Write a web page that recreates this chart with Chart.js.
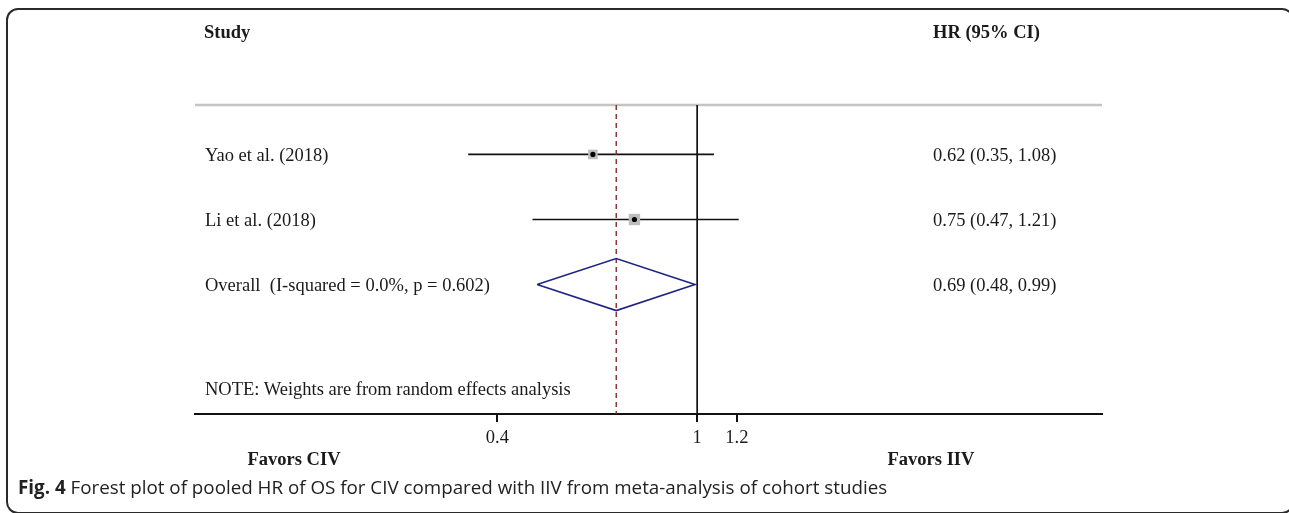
<!DOCTYPE html>
<html lang="en">
<head>
    <meta charset="UTF-8">
    <title>Forest plot of pooled HR of OS</title>
    <script src="https://cdn.jsdelivr.net/npm/chart.js"></script>
    <style>
        body { margin: 0; width: 1289px; height: 513px; overflow: hidden; background: #fff; position: relative; }
        .frame { position: absolute; left: 6px; top: 8px; width: 1284px; height: 502px; border: 2px solid #2a2a2a; border-radius: 12px; }
        #wrap { position: absolute; left: 0; top: 0; width: 1289px; height: 513px; }
        .t { position: absolute; font-family: "Liberation Serif", "Times New Roman", serif; font-size: 18.5px; color: #1a1a1a; white-space: pre; transform: translateY(-50%); line-height: 1; }
        .b { font-weight: bold; }
        .c { transform: translate(-50%, -50%); }
        .cap { position: absolute; left: 18px; top: 487px; transform: translateY(-50%); font-family: "Open Sans", sans-serif; font-size: 18.8px; color: #222; white-space: nowrap; }
    </style>
</head>
<body>
    <div class="frame"></div>
    <div id="wrap"><canvas id="forest" width="1289" height="513"></canvas></div>

    <div class="t b" style="left:204px; top:32px;">Study</div>
    <div class="t b" style="left:933px; top:32px;">HR (95% CI)</div>
    <div id="rowLabels"></div>
    <div class="t" style="left:205px; top:389px;">NOTE: Weights are from random effects analysis</div>
    <div class="t b c" style="left:294px; top:459px;">Favors CIV</div>
    <div class="t b c" style="left:931px; top:459px;">Favors IIV</div>
    <div class="cap"><b>Fig. 4</b> Forest plot of pooled HR of OS for CIV compared with IIV from meta-analysis of cohort studies</div>

    <script>
        const studies = ['Yao et al. (2018)', 'Li et al. (2018)'];
        const hr = [0.62, 0.75];
        const ciLow = [0.35, 0.47];
        const ciHigh = [1.08, 1.21];
        const weights = [41.3, 58.7];
        const overallLabel = 'Overall  (I-squared = 0.0%, p = 0.602)';
        const overallHR = [0.69];
        const overallLow = [0.48];
        const overallHigh = [0.99];
        const xTicks = [0.4, 1, 1.2];

        const rowY = [154.5, 219.5, 284.5];
        const labelsDiv = document.getElementById('rowLabels');
        const allLabels = studies.concat([overallLabel]);
        const allText = hr.concat(overallHR).map((v, i) => {
            const lo = ciLow.concat(overallLow)[i], hi = ciHigh.concat(overallHigh)[i];
            return v.toFixed(2) + ' (' + lo.toFixed(2) + ', ' + hi.toFixed(2) + ')';
        });
        allLabels.forEach((lab, i) => {
            labelsDiv.insertAdjacentHTML('beforeend',
                '<div class="t" style="left:205px; top:' + rowY[i] + 'px;">' + lab + '</div>' +
                '<div class="t" style="left:933px; top:' + rowY[i] + 'px;">' + allText[i] + '</div>');
        });

        const yMin = 0.24, yMax = 4.99;
        const xMin = 0.1, xMax = 6.4;
        const overallRow = studies.length + 1;

        // lower order = drawn on top
        const datasets = [];
        datasets.push({ type: 'line', order: 9, data: [{x: xMin, y: yMin}, {x: xMax, y: yMin}], borderColor: '#c4c4c4', borderWidth: 2.5, pointRadius: 0, clip: false });
        datasets.push({ type: 'line', order: 8, data: [{x: 1, y: yMin}, {x: 1, y: yMax}], borderColor: '#111', borderWidth: 1.7, pointRadius: 0, clip: false });
        studies.forEach((s, i) => {
            datasets.push({ type: 'line', order: 7, data: [{x: ciLow[i], y: i + 1}, {x: ciHigh[i], y: i + 1}], borderColor: '#111', borderWidth: 1.7, pointRadius: 0 });
        });
        datasets.push({ type: 'line', order: 5, data: [{x: overallHR[0], y: yMin}, {x: overallHR[0], y: yMax}], borderColor: '#8b2a2a', borderWidth: 1.4, borderDash: [5, 4], pointRadius: 0, clip: false });
        datasets.push({ type: 'scatter', order: 2, data: hr.map((v, i) => ({x: v, y: i + 1})), pointStyle: 'rect',
            pointRadius: weights.map(w => Math.sqrt(w) * 1.05), backgroundColor: '#bdbdbd', borderWidth: 0 });
        datasets.push({ type: 'scatter', order: 1, data: hr.map((v, i) => ({x: v, y: i + 1})), pointStyle: 'circle',
            pointRadius: 2.6, backgroundColor: '#000', borderWidth: 0 });
        datasets.push({ type: 'line', order: 3, data: [
            {x: overallLow[0], y: overallRow}, {x: overallHR[0], y: overallRow - 0.4},
            {x: overallHigh[0], y: overallRow}, {x: overallHR[0], y: overallRow + 0.4},
            {x: overallLow[0], y: overallRow}],
            borderColor: '#1c2580', borderWidth: 1.6, pointRadius: 0, tension: 0 });

        new Chart(document.getElementById('forest'), {
            type: 'scatter',
            data: { datasets: datasets },
            options: {
                responsive: false,
                animation: false,
                events: [],
                layout: { padding: { left: 195, right: 187, top: 105, bottom: 0 } },
                plugins: { legend: { display: false }, tooltip: { enabled: false } },
                scales: {
                    x: {
                        type: 'logarithmic',
                        min: xMin,
                        max: xMax,
                        position: 'bottom',
                        afterBuildTicks: scale => { scale.ticks = xTicks.map(v => ({ value: v })); },
                        afterFit: scale => { scale.height = 99; },
                        border: { color: '#111', width: 2 },
                        grid: { drawOnChartArea: false, drawTicks: true, tickLength: 8, color: '#111', lineWidth: 2 },
                        ticks: {
                            color: '#1a1a1a',
                            padding: 5,
                            maxRotation: 0,
                            autoSkip: false,
                            font: { family: 'Liberation Serif', size: 18.5 },
                            callback: v => String(v)
                        }
                    },
                    y: {
                        display: false,
                        min: yMin,
                        max: yMax,
                        reverse: true
                    }
                }
            }
        });
    </script>
</body>
</html>
